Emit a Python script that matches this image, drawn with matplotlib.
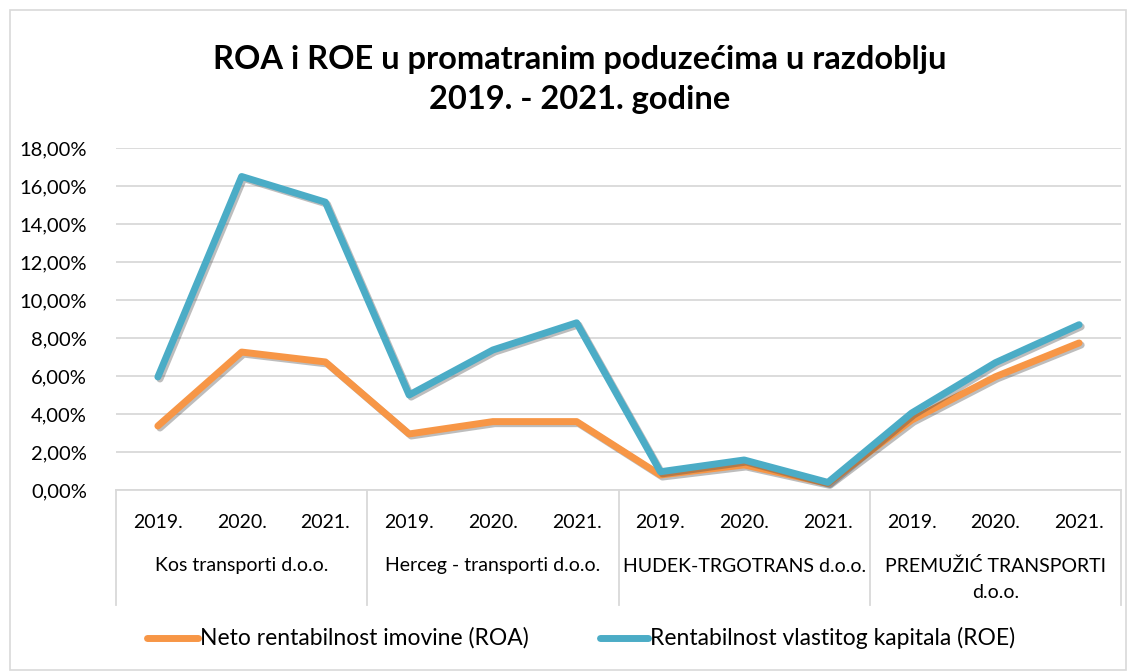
import matplotlib
matplotlib.use("Agg")
import matplotlib.pyplot as plt
import matplotlib.patheffects as pe
from matplotlib.patches import Rectangle
from matplotlib.ticker import FuncFormatter, MultipleLocator

# ── Podaci ────────────────────────────────────────────────────────────────
companies = ["Kos transporti d.o.o.", "Herceg - transporti d.o.o.",
             "HUDEK-TRGOTRANS d.o.o.", "PREMUŽIĆ TRANSPORTI\nd.o.o."]
years = ["2019.", "2020.", "2021."]
roa = [3.37, 7.26, 6.74, 2.95, 3.60, 3.60, 0.79, 1.32, 0.35, 3.68, 5.96, 7.74]
roe = [5.95, 16.50, 15.15, 5.00, 7.37, 8.80, 0.96, 1.58, 0.40, 4.05, 6.70, 8.70]
roa_label = "Neto rentabilnost imovine (ROA)"
roe_label = "Rentabilnost vlastitog kapitala (ROE)"

W, H = 1135, 672
plt.rcParams["font.family"] = ["Lato", "DejaVu Sans"]

fig = plt.figure(figsize=(W / 100, H / 100), dpi=100)
fig.patch.set_facecolor("white")
fig.patches.append(Rectangle((10 / W, 2 / H), 1116 / W, 660 / H, transform=fig.transFigure,
                             fill=False, edgecolor="#d9d9d9", linewidth=1.2))

left, right, top, bottom = 116, 1121, 148, 490
ax = fig.add_axes([left / W, 1 - bottom / H, (right - left) / W, (bottom - top) / H])

n = len(roa)
x = list(range(n))
shadow = [pe.SimpleLineShadow(offset=(1.5, -1.5), shadow_color="#444444", alpha=0.35), pe.Normal()]
ax.plot(x, roa, color="#F79646", lw=5, solid_capstyle="round", solid_joinstyle="round",
        path_effects=shadow, zorder=3)
ax.plot(x, roe, color="#4BACC6", lw=5, solid_capstyle="round", solid_joinstyle="round",
        path_effects=shadow, zorder=4)

ax.set_xlim(-0.5, n - 0.5)
ax.set_ylim(0, 18)
ax.yaxis.set_major_locator(MultipleLocator(2))
ax.yaxis.set_major_formatter(FuncFormatter(lambda v, p: f"{v:.2f}%".replace(".", ",")))
ax.tick_params(axis="y", length=0, labelsize=14.5, pad=21, labelcolor="#000000")
ax.set_xticks([])
ax.grid(axis="y", color="#d9d9d9", linewidth=1.3)
ax.set_axisbelow(True)
for s in ["top", "right", "left"]:
    ax.spines[s].set_visible(False)
ax.spines["bottom"].set_color("#d9d9d9")
ax.spines["bottom"].set_linewidth(1.3)

# kategorije na x-osi (godine + poduzeća)
def fy(py):
    return (bottom - py) / (bottom - top)

trans = ax.get_xaxis_transform()
for i in range(n):
    ax.text(i, fy(522), years[i % 3], transform=trans, ha="center", va="center", fontsize=14)
for g, name in enumerate(companies):
    lines = name.split("\n")
    for k, ln in enumerate(lines):
        ax.text(g * 3 + 1, fy(566 + 27 * k), ln, transform=trans, ha="center", va="center", fontsize=14)
for b in range(len(companies) + 1):
    ax.plot([b * 3 - 0.5] * 2, [0, fy(605)], transform=trans, color="#d9d9d9",
            lw=1.3, clip_on=False)

fig.text(580 / W, 1 - 60 / H, "ROA i ROE u promatranim poduzećima u razdoblju",
         ha="center", va="center", fontsize=23.5, fontweight="bold")
fig.text(580 / W, 1 - 100 / H, "2019. - 2021. godine",
         ha="center", va="center", fontsize=23.5, fontweight="bold")

# legenda
ly = 1 - 638 / H
fig.add_artist(plt.Line2D([147 / W, 198 / W], [ly, ly], color="#F79646", lw=5,
                          solid_capstyle="round", transform=fig.transFigure))
fig.text(200 / W, ly, roa_label, ha="left", va="center", fontsize=16.5)
fig.add_artist(plt.Line2D([600 / W, 648 / W], [ly, ly], color="#4BACC6", lw=5,
                          solid_capstyle="round", transform=fig.transFigure))
fig.text(650 / W, ly, roe_label, ha="left", va="center", fontsize=16.5)

fig.savefig("out.png", dpi=100, facecolor=fig.get_facecolor())
